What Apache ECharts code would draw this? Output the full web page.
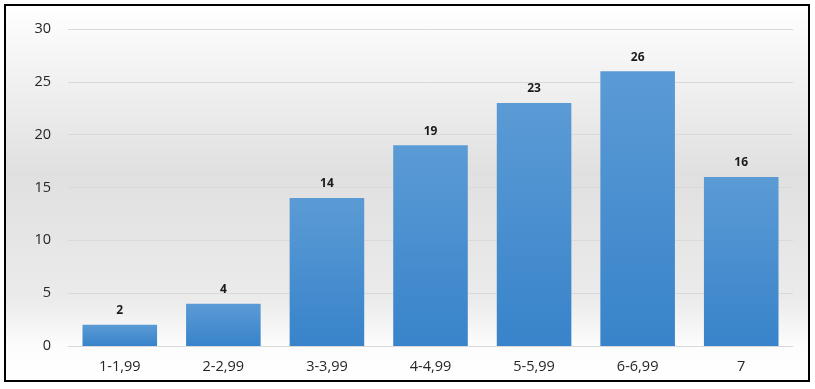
<!DOCTYPE html>
<html>
<head>
<meta charset="utf-8">
<script src="https://cdn.jsdelivr.net/npm/echarts@6/dist/echarts.min.js"></script>
<style>
html,body{margin:0;padding:0;background:#fff;}
#c{width:815px;height:389px;}
</style>
</head>
<body>
<div id="c"></div>
<script>
const categories = ['1-1,99','2-2,99','3-3,99','4-4,99','5-5,99','6-6,99','7'];
const values = [2, 4, 14, 19, 23, 26, 16];
const yTicks = {min: 0, max: 30, interval: 5};

const chart = echarts.init(document.getElementById('c'));
chart.setOption({
  animation: false,
  backgroundColor: '#ffffff',
  graphic: [
    {type:'rect', z:-10, silent:true, shape:{x:5,y:5,width:804,height:376},
     style:{fill:new echarts.graphic.LinearGradient(0,0,0,1,[
       {offset:0,color:'#ffffff'},
       {offset:0.45,color:'#e0e0e0'},
       {offset:0.78,color:'#ebebeb'},
       {offset:0.9,color:'#fcfcfc'},
       {offset:1,color:'#ffffff'}]), stroke:'#000', lineWidth:2}}
  ],
  grid: {left:68, right:22, top:29, bottom:43},
  xAxis: {
    type:'category', data:categories,
    axisLine:{lineStyle:{color:'#d9d9d9'}},
    axisTick:{show:false},
    axisLabel:{color:'#262626', fontSize:14.5, fontFamily:'Open Sans, sans-serif', margin:13}
  },
  yAxis: {
    type:'value', min:yTicks.min, max:yTicks.max, interval:yTicks.interval,
    axisLine:{show:false}, axisTick:{show:false},
    splitLine:{lineStyle:{color:'#d9d9d9'}},
    axisLabel:{color:'#262626', fontSize:14.5, fontFamily:'Open Sans, sans-serif', margin:17}
  },
  series: [{
    type:'bar', data:values, barCategoryGap:'28%',
    itemStyle:{color:new echarts.graphic.LinearGradient(0,0,0,1,[
      {offset:0,color:'#5b9bd5'},{offset:1,color:'#3883ca'}])},
    label:{show:true, position:'top', distance:8, color:'#1a1a1a', fontWeight:'bold', fontSize:12, fontFamily:'Open Sans, sans-serif'}
  }]
});
</script>
</body>
</html>
